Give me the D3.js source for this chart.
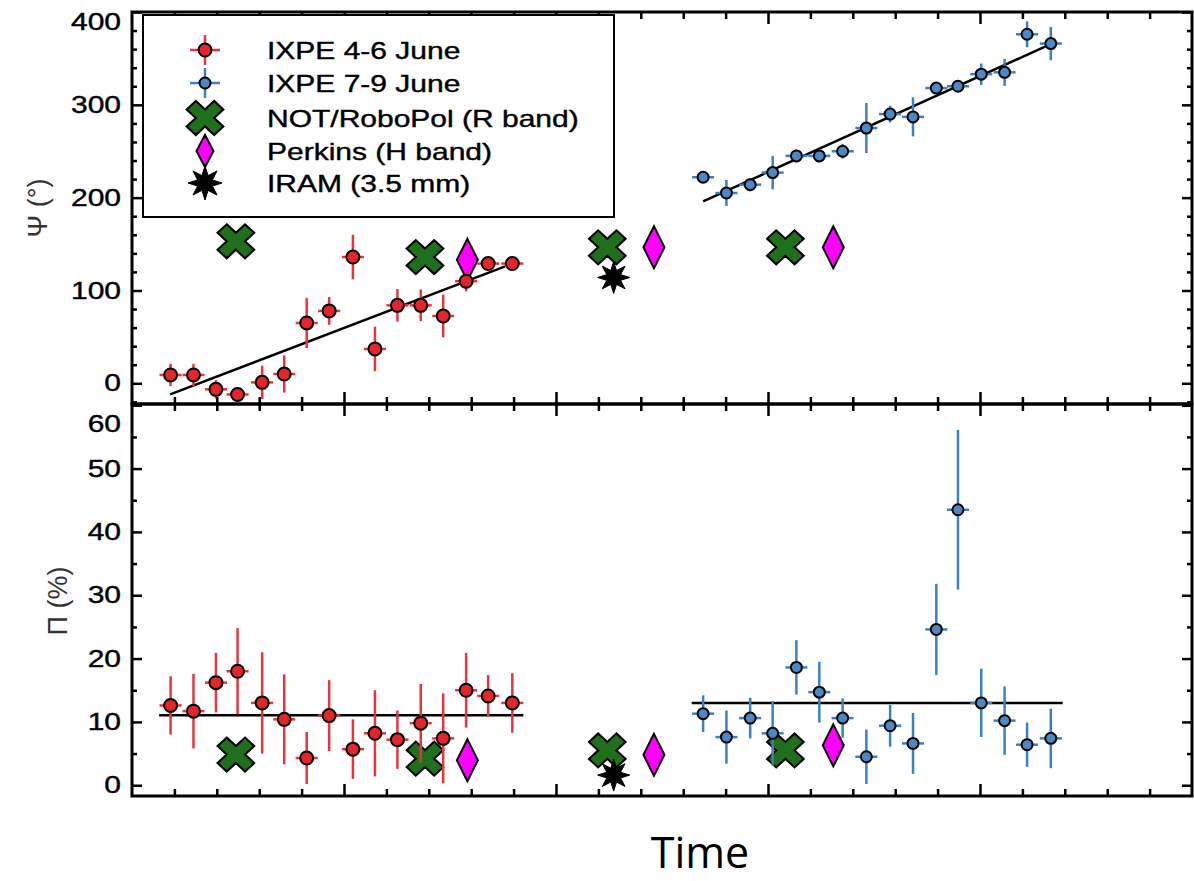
<!DOCTYPE html>
<html>
<head>
<meta charset="utf-8">
<script src="https://cdn.jsdelivr.net/npm/d3@7"></script>
<style>
  body { margin: 0; background: #fff; }
  svg { display: block; }
</style>
</head>
<body>
<svg id="chart" width="1194" height="881"></svg>
<script>
// ---- IXPE 4-6 June (time in arbitrary units, angle in deg, degree in %)
const redTime   = [0.91, 1.45, 1.98, 2.49, 3.07, 3.59, 4.12, 4.65, 5.21, 5.73, 6.26, 6.81, 7.34, 7.88, 8.40, 8.97];
const redPsi    = [9, 9, -6.5, -12, 1, 10, 65, 78, 136, 37, 84, 84, 72.5, 110, 129, 129];
const redPsiErr = [12, 12, 10, 8, 18, 20, 27, 15, 24, 24, 17.5, 17, 23, 11, 5, 6];
const redPi     = [12.6, 11.7, 16.2, 18.0, 13.0, 10.4, 4.3, 11.0, 5.7, 8.2, 7.2, 9.8, 7.4, 15.0, 14.1, 13.0];
const redPiErr  = [4.6, 5.9, 4.7, 6.8, 8.0, 7.1, 4.1, 5.6, 4.7, 6.8, 4.6, 6.2, 7.1, 5.9, 3.3, 4.7];

// ---- IXPE 7-9 June
const blueTime   = [13.47, 14.02, 14.58, 15.11, 15.67, 16.21, 16.76, 17.32, 17.88, 18.42, 18.97, 19.48, 20.03, 20.58, 21.11, 21.67];
const bluePsi    = [222, 205, 214, 227, 245, 245, 250, 275, 290, 287, 318, 320, 333, 335, 376, 366];
const bluePsiErr = [5, 14, 7, 18, 7, 7, 8, 27, 9, 21, 6, 6, 11.5, 14.5, 14, 18];
const bluePi     = [11.3, 7.6, 10.6, 8.2, 18.6, 14.7, 10.6, 4.5, 9.4, 6.6, 24.6, 43.5, 13.0, 10.2, 6.4, 7.4];
const bluePiErr  = [2.9, 4.2, 3.2, 5.1, 4.3, 4.8, 3.1, 4.3, 3.3, 4.8, 7.2, 12.6, 5.4, 5.4, 3.5, 4.7];

// half-width of each IXPE time bin
const binHalf = 0.26;

// ---- linear fits of Ψ and constant fits of Π: [t0, t1, v0, v1]
const redPsiFit  = [0.9, 8.8, -12, 126];
const bluePsiFit = [13.47, 21.6, 196, 364];
const redPiFit   = [0.64, 9.23, 11.05, 11.05];
const bluePiFit  = [13.2, 21.95, 13.0, 13.0];

// ---- multiwavelength points
const notTime  = [2.45, 6.91, 11.21, 15.41];
const notPsi   = [153, 136, 146.5, 146.5];
const notPi    = [4.85, 4.2, 5.5, 5.5];
const perkinsTime = [7.91, 12.31, 16.54];
const perkinsPsi  = [133, 146.5, 146.5];
const perkinsPi   = [3.95, 4.8, 6.3];
const iramTime = [11.36];
const iramPsi  = [114];
const iramPi   = [1.6];

// ---- axis ticks
const psiTicks = [0, 100, 200, 300, 400];
const piTicks  = [0, 10, 20, 30, 40, 50, 60];
const legendLabels = ["IXPE 4-6 June", "IXPE 7-9 June", "NOT/RoboPol (R band)", "Perkins (H band)", "IRAM (3.5 mm)"];

const RED = "#e3262b", RED_BAR = "#e8353b";
const BLUE = "#4a88c6", BLUE_BAR = "#3d80c0";
const GREEN = "#1f6f1c", MAGENTA = "#ff00ff";
const FONT = "'Liberation Sans', Arial, Helvetica, sans-serif";
const STRETCH = 1.25;

const svg = d3.select("#chart");
svg.append("rect").attr("width", 1194).attr("height", 881).attr("fill", "#fff");

const left = 132, right = 1192, top1 = 12, mid = 404, bot2 = 796;
const x = d3.scaleLinear().domain([0, 25]).range([left, right]);
const yPsi = d3.scaleLinear().domain([-22.3, 400]).range([mid, top1]);
const yPi  = d3.scaleLinear().domain([-1.7, 60.2]).range([bot2, mid]);

// clip paths per panel
const defs = svg.append("defs");
defs.append("clipPath").attr("id", "clipTop").append("rect")
  .attr("x", left).attr("y", top1).attr("width", right - left).attr("height", mid - top1);
defs.append("clipPath").attr("id", "clipBot").append("rect")
  .attr("x", left).attr("y", mid).attr("width", right - left).attr("height", bot2 - mid);

// ---- marker shapes
function xMark(g, cx, cy, s = 1) {
  g.append("path")
    .attr("d", d3.symbol(d3.symbolCross, 720 * s * s)())
    .attr("transform", `translate(${cx},${cy}) scale(1.08,1) rotate(45)`)
    .attr("fill", GREEN).attr("stroke", "#000").attr("stroke-width", 2).attr("stroke-linejoin", "miter");
}
function diamondMark(g, cx, cy, w, h) {
  g.append("path")
    .attr("d", `M0,${-h}L${w},0L0,${h}L${-w},0Z`)
    .attr("transform", `translate(${cx},${cy})`)
    .attr("fill", MAGENTA).attr("stroke", "#000").attr("stroke-width", 2).attr("stroke-linejoin", "miter");
}
function starMark(g, cx, cy, R, r) {
  const n = 8, pts = [];
  for (let i = 0; i < 2 * n; i++) {
    const a = i * Math.PI / n - Math.PI / 2;
    const rr = i % 2 === 0 ? R : r;
    pts.push([rr * Math.cos(a), rr * Math.sin(a)]);
  }
  g.append("path")
    .attr("d", d3.line()(pts) + "Z")
    .attr("transform", `translate(${cx},${cy})`)
    .attr("fill", "#000").attr("stroke", "#000").attr("stroke-width", 1);
}

// ---- one panel
function panel(y, clipId, opt) {
  const g = svg.append("g").attr("clip-path", `url(#${clipId})`);

  // fit lines
  [opt.redFit, opt.blueFit].forEach(f => {
    g.append("line")
      .attr("x1", x(f[0])).attr("x2", x(f[1]))
      .attr("y1", y(f[2])).attr("y2", y(f[3]))
      .attr("stroke", "#000").attr("stroke-width", 2.5);
  });

  // optical / radio points
  notTime.forEach((t, i) => xMark(g, x(t), y(opt.not[i])));
  perkinsTime.forEach((t, i) => diamondMark(g, x(t), y(opt.perkins[i]), 10.5, 21));
  iramTime.forEach((t, i) => starMark(g, x(t), y(opt.iram[i]), 16, 7.5));

  // IXPE points with error bars
  function series(times, vals, errs, fill, bar, r) {
    const d = times.map((t, i) => ({ t, v: vals[i], e: errs[i] }));
    const s = g.append("g");
    s.selectAll("line.v").data(d).join("line").attr("class", "v")
      .attr("x1", p => x(p.t)).attr("x2", p => x(p.t))
      .attr("y1", p => y(p.v - p.e)).attr("y2", p => y(p.v + p.e))
      .attr("stroke", bar).attr("stroke-width", 2.5);
    s.selectAll("line.h").data(d).join("line").attr("class", "h")
      .attr("x1", p => x(p.t - binHalf)).attr("x2", p => x(p.t + binHalf))
      .attr("y1", p => y(p.v)).attr("y2", p => y(p.v))
      .attr("stroke", bar).attr("stroke-width", 2.5);
    s.selectAll("circle").data(d).join("circle")
      .attr("cx", p => x(p.t)).attr("cy", p => y(p.v)).attr("r", r)
      .attr("fill", fill).attr("stroke", "#000").attr("stroke-width", 2);
  }
  series(redTime, opt.red, opt.redErr, RED, RED_BAR, 6.5);
  series(blueTime, opt.blue, opt.blueErr, BLUE, BLUE_BAR, 5.5);
}

panel(yPsi, "clipTop", {
  redFit: redPsiFit, blueFit: bluePsiFit,
  not: notPsi, perkins: perkinsPsi, iram: iramPsi,
  red: redPsi, redErr: redPsiErr, blue: bluePsi, blueErr: bluePsiErr
});
panel(yPi, "clipBot", {
  redFit: redPiFit, blueFit: bluePiFit,
  not: notPi, perkins: perkinsPi, iram: iramPi,
  red: redPi, redErr: redPiErr, blue: bluePi, blueErr: bluePiErr
});

// ---- axes: inward ticks on all four sides of both panels
function styleAxis(g) {
  g.select(".domain").remove();
  g.selectAll(".tick line").attr("stroke", "#000").attr("stroke-width", 2.5);
}
const xMajor = [5, 10, 15, 20];
const xMinor = d3.range(1, 25).filter(v => !xMajor.includes(v));

[[top1, "top"], [mid, "bottom"], [mid, "top"], [bot2, "bottom"]].forEach(([yy, side]) => {
  const mk = side === "top" ? d3.axisTop : d3.axisBottom;
  svg.append("g").attr("transform", `translate(0,${yy})`)
    .call(mk(x).tickValues(xMajor).tickSize(-12).tickSizeOuter(0).tickFormat(""))
    .call(styleAxis);
  svg.append("g").attr("transform", `translate(0,${yy})`)
    .call(mk(x).tickValues(xMinor).tickSize(-7).tickSizeOuter(0).tickFormat(""))
    .call(styleAxis);
});

function yAxes(y, major, minor, topShift) {
  // left side with labels
  const gl = svg.append("g").attr("transform", `translate(${left},0)`)
    .call(d3.axisLeft(y).tickValues(major).tickSize(-10).tickSizeOuter(0).tickPadding(11))
    .call(styleAxis);
  gl.selectAll(".tick text")
    .attr("font-family", FONT).attr("font-size", 24).attr("fill", "#000")
    .attr("stroke", "#000").attr("stroke-width", 0.4)
    .attr("x", -11 / STRETCH)
    .attr("transform", `scale(${STRETCH},1)`)
    .attr("y", d => d === major[major.length - 1] ? topShift : 0);
  svg.append("g").attr("transform", `translate(${left},0)`)
    .call(d3.axisLeft(y).tickValues(minor).tickSize(-5).tickSizeOuter(0).tickFormat(""))
    .call(styleAxis);
  // right side
  svg.append("g").attr("transform", `translate(${right},0)`)
    .call(d3.axisRight(y).tickValues(major).tickSize(-10).tickSizeOuter(0).tickFormat(""))
    .call(styleAxis);
  svg.append("g").attr("transform", `translate(${right},0)`)
    .call(d3.axisRight(y).tickValues(minor).tickSize(-5).tickSizeOuter(0).tickFormat(""))
    .call(styleAxis);
}
yAxes(yPsi, psiTicks, d3.range(-20, 400, 20).filter(v => v % 100 !== 0), 10);
yAxes(yPi, piTicks, d3.range(5, 60, 10), 19);

// panel frames
svg.append("rect").attr("x", left).attr("y", top1).attr("width", right - left).attr("height", mid - top1)
  .attr("fill", "none").attr("stroke", "#000").attr("stroke-width", 3);
svg.append("rect").attr("x", left).attr("y", mid).attr("width", right - left).attr("height", bot2 - mid)
  .attr("fill", "none").attr("stroke", "#000").attr("stroke-width", 3);

// ---- axis titles
svg.append("text").attr("transform", "translate(38,208) rotate(-90)")
  .attr("text-anchor", "middle").attr("dominant-baseline", "central")
  .attr("font-family", FONT).attr("font-size", 27).attr("fill", "#333").text("Ψ (°)");
svg.append("text").attr("transform", "translate(58,601) rotate(-90)")
  .attr("text-anchor", "middle").attr("dominant-baseline", "central")
  .attr("font-family", FONT).attr("font-size", 27).attr("fill", "#333").text("Π (%)");
svg.append("text").attr("x", 700).attr("y", 868).attr("text-anchor", "middle")
  .attr("font-family", "'Open Sans', 'Noto Sans', sans-serif").attr("font-size", 43).attr("fill", "#000")
  .text("Time");

// ---- legend
const lg = svg.append("g");
lg.append("rect").attr("x", 143).attr("y", 15).attr("width", 471).attr("height", 202)
  .attr("fill", "#fff").attr("stroke", "#000").attr("stroke-width", 2);
const mx = 205, rowY = [50, 83, 118, 151, 183];
function legendErr(cy, fill, bar, r) {
  lg.append("line").attr("x1", mx).attr("x2", mx).attr("y1", cy - 15).attr("y2", cy + 15)
    .attr("stroke", bar).attr("stroke-width", 2.5);
  lg.append("line").attr("x1", mx - 15).attr("x2", mx + 15).attr("y1", cy).attr("y2", cy)
    .attr("stroke", bar).attr("stroke-width", 2.5);
  lg.append("circle").attr("cx", mx).attr("cy", cy).attr("r", r)
    .attr("fill", fill).attr("stroke", "#000").attr("stroke-width", 2);
}
legendErr(rowY[0], RED, RED_BAR, 6.5);
legendErr(rowY[1], BLUE, BLUE_BAR, 5.5);
xMark(lg, mx, rowY[2]);
diamondMark(lg, mx, rowY[3], 8.5, 16);
starMark(lg, mx, rowY[4], 17, 8);
legendLabels.forEach((s, i) => {
  lg.append("text")
    .attr("transform", `translate(267,${rowY[i] + 8.5}) scale(${STRETCH},1)`)
    .attr("font-family", FONT).attr("font-size", 24).attr("fill", "#000")
    .attr("stroke", "#000").attr("stroke-width", 0.4)
    .text(s);
});
</script>
</body>
</html>
